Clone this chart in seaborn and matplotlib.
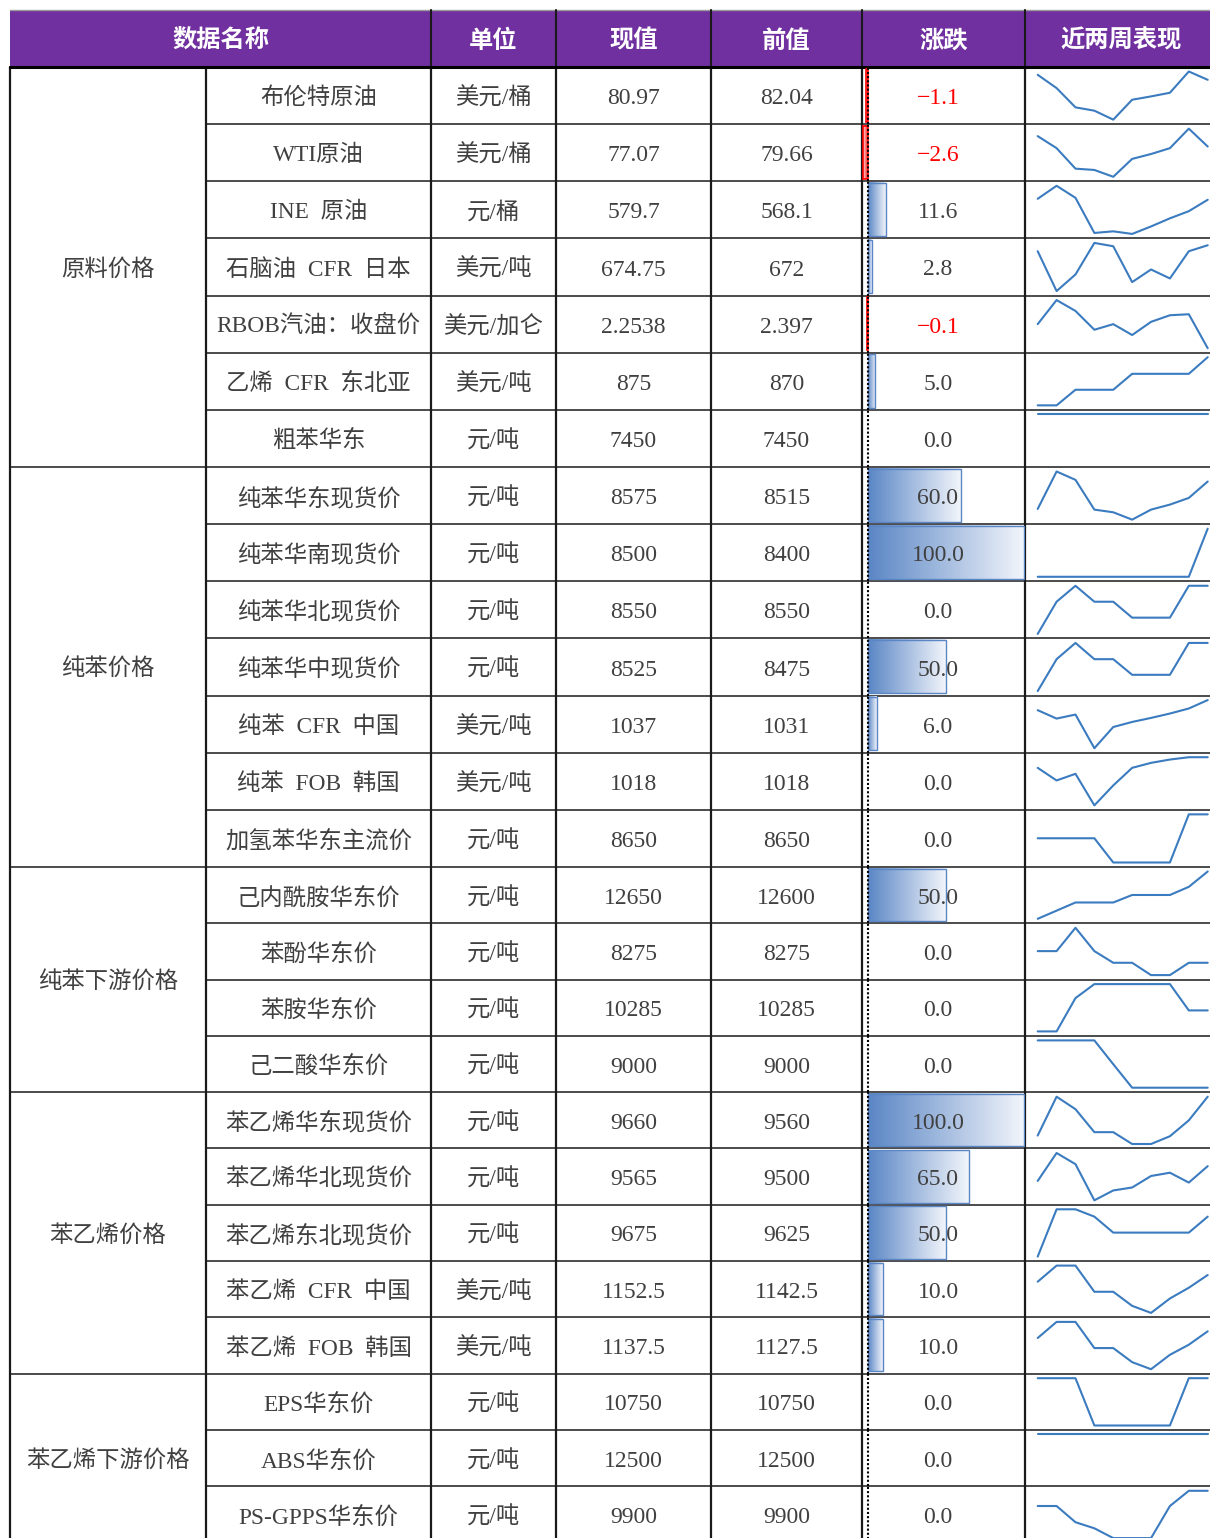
import numpy as np
import matplotlib
matplotlib.use("Agg")
import matplotlib.pyplot as plt
from matplotlib.colors import LinearSegmentedColormap
from matplotlib.patches import Rectangle
import seaborn as sns

sns.set_theme(style="white")
plt.rcParams['font.family'] = ['Liberation Serif', 'Noto Sans CJK SC', 'DejaVu Sans']

groups = ["原料价格", "纯苯价格", "纯苯下游价格", "苯乙烯价格", "苯乙烯下游价格"]
group_sizes = [7, 7, 4, 5, 3]

names = ["布伦特原油", "WTI原油", "INE  原油", "石脑油  CFR  日本", "RBOB汽油：收盘价",
         "乙烯  CFR  东北亚", "粗苯华东",
         "纯苯华东现货价", "纯苯华南现货价", "纯苯华北现货价", "纯苯华中现货价",
         "纯苯  CFR  中国", "纯苯  FOB  韩国", "加氢苯华东主流价",
         "己内酰胺华东价", "苯酚华东价", "苯胺华东价", "己二酸华东价",
         "苯乙烯华东现货价", "苯乙烯华北现货价", "苯乙烯东北现货价",
         "苯乙烯  CFR  中国", "苯乙烯  FOB  韩国",
         "EPS华东价", "ABS华东价", "PS-GPPS华东价"]

units = ["美元/桶", "美元/桶", "元/桶", "美元/吨", "美元/加仑", "美元/吨", "元/吨",
         "元/吨", "元/吨", "元/吨", "元/吨", "美元/吨", "美元/吨", "元/吨",
         "元/吨", "元/吨", "元/吨", "元/吨",
         "元/吨", "元/吨", "元/吨", "美元/吨", "美元/吨",
         "元/吨", "元/吨", "元/吨"]

current = [80.97, 77.07, 579.7, 674.75, 2.2538, 875, 7450,
           8575, 8500, 8550, 8525, 1037, 1018, 8650,
           12650, 8275, 10285, 9000,
           9660, 9565, 9675, 1152.5, 1137.5,
           10750, 12500, 9900]

previous = [82.04, 79.66, 568.1, 672, 2.397, 870, 7450,
            8515, 8400, 8550, 8475, 1031, 1018, 8650,
            12600, 8275, 10285, 9000,
            9560, 9500, 9625, 1142.5, 1127.5,
            10750, 12500, 9900]

# relative levels of the two-week sparklines (10 points each)
trends = [
    [135, 95, 37, 27, 0, 60, 70, 81, 145, 120],
    [125, 88, 25, 21, 0, 55, 70, 88, 148, 93],
    [108, 148, 111, 3, 8, 0, 23, 48, 70, 105],
    [120, 0, 50, 145, 135, 27, 65, 38, 120, 138],
    [73, 146, 113, 56, 73, 40, 80, 100, 103, 0],
    [0, 0, 47, 47, 47, 95, 95, 95, 95, 145],
    [0, 0, 0, 0, 0, 0, 0, 0, 0, 0],
    [32, 144, 119, 30, 22, 0, 30, 45, 65, 114],
    [0, 0, 0, 0, 0, 0, 0, 0, 0, 145],
    [0, 97, 145, 97, 97, 49, 49, 49, 145, 145],
    [0, 98, 148, 98, 98, 50, 50, 50, 148, 148],
    [113, 88, 100, 0, 63, 78, 90, 103, 118, 143],
    [113, 75, 95, 0, 60, 113, 128, 138, 145, 145],
    [71, 71, 71, 71, 0, 0, 0, 0, 141, 141],
    [0, 25, 50, 50, 50, 73, 73, 73, 98, 145],
    [72, 72, 142, 72, 37, 37, 0, 0, 37, 37],
    [0, 0, 100, 142, 142, 142, 142, 142, 63, 63],
    [143, 143, 143, 143, 71, 0, 0, 0, 0, 0],
    [25, 140, 103, 35, 35, 0, 0, 23, 70, 140],
    [59, 144, 110, 0, 30, 39, 74, 84, 54, 104],
    [0, 142, 142, 120, 72, 72, 72, 72, 72, 120],
    [93, 141, 141, 63, 63, 21, 0, 43, 75, 113],
    [93, 141, 141, 63, 63, 21, 0, 43, 73, 113],
    [145, 145, 145, 0, 0, 0, 0, 0, 145, 145],
    [0, 0, 0, 0, 0, 0, 0, 0, 0, 0],
    [95, 95, 47, 29, 0, 0, 0, 95, 140, 140],
]

headers = ["数据名称", "单位", "现值", "前值", "涨跌", "近两周表现"]

change = [round(c - p, 1) for c, p in zip(current, previous)]

# --- layout (pixels) ---
W, H = 1210, 1538
col_x = [10, 206, 431, 556, 711, 862, 1025, 1212]
head_top, head_bot = 10, 67
row_h = [800 / 14] * 14 + [56.3] * 12
row_edges = [head_bot]
for h in row_h:
    row_edges.append(row_edges[-1] + h)

purple = "#7030A0"
txt_col = "#404040"
line_col = "#1a1a1a"
spark_col = "#3B7BBF"
bar_col = "#5A86C5"
fs = 16.8
fs_num = 17
dy = 3  # text sits a little below the cell middle

fig = plt.figure(figsize=(W / 100, H / 100), dpi=100)
ax = fig.add_axes([0, 0, 1, 1])
ax.set_xlim(0, W)
ax.set_ylim(H, 0)
ax.set_axis_off()


def fig_rect(x0, x1, y0, y1):
    return [x0 / W, 1 - y1 / H, (x1 - x0) / W, (y1 - y0) / H]


# header
ax.add_patch(Rectangle((col_x[0], head_top), W - col_x[0], head_bot - head_top,
                       facecolor=purple, edgecolor="none"))
ax.plot([col_x[0], W], [head_top - 0.5, head_top - 0.5], color="#9a9a9a", lw=1)
head_cx = [(col_x[0] + col_x[2]) / 2, (col_x[2] + col_x[3]) / 2, (col_x[3] + col_x[4]) / 2,
           (col_x[4] + col_x[5]) / 2, (col_x[5] + col_x[6]) / 2, 1121]
for cx, t in zip(head_cx, headers):
    ax.text(cx, (head_top + head_bot) / 2 + 2, t, ha="center", va="center",
            color="white", fontsize=17.5, fontweight="bold",
            family=['Noto Sans CJK SC', 'DejaVu Sans'])
for x in col_x[2:7]:
    ax.plot([x, x], [head_top, head_bot], color=line_col, lw=1.5)

# body grid
for x in col_x[:7]:
    ax.plot([x, x], [head_bot, H], color=line_col, lw=1.6)
group_starts = np.cumsum([0] + group_sizes)
for i, y in enumerate(row_edges[1:], start=1):
    x0 = col_x[0] if i in group_starts else col_x[1]
    ax.plot([x0, W], [y, y], color=line_col, lw=1.1)
ax.plot([col_x[0], W], [head_bot, head_bot], color="black", lw=2.2)

# group labels
for g, start, size in zip(groups, group_starts[:-1], group_sizes):
    yc = (row_edges[start] + row_edges[start + size]) / 2 + dy
    ax.text((col_x[0] + col_x[1]) / 2, yc, g, ha="center", va="center",
            color=txt_col, fontsize=fs)

# row texts
for i in range(len(names)):
    yc = (row_edges[i] + row_edges[i + 1]) / 2 + dy
    ax.text((col_x[1] + col_x[2]) / 2, yc, names[i], ha="center", va="center", color=txt_col, fontsize=fs)
    ax.text((col_x[2] + col_x[3]) / 2, yc, units[i], ha="center", va="center", color=txt_col, fontsize=fs)
    ax.text((col_x[3] + col_x[4]) / 2, yc, f"{current[i]:g}", ha="center", va="center", color=txt_col, fontsize=fs_num)
    ax.text((col_x[4] + col_x[5]) / 2, yc, f"{previous[i]:g}", ha="center", va="center", color=txt_col, fontsize=fs_num)

# data bars in the change column
pos_cmap = LinearSegmentedColormap.from_list("pos", [bar_col, "#F2F5FB"])
neg_cmap = LinearSegmentedColormap.from_list("neg", ["#FFE0E0", "#FF2020"])
grad = np.linspace(0, 1, 256).reshape(1, -1)
zero_px, px_per_unit = 867.5, 1.56
bx0, bx1 = col_x[5], col_x[6]
for i, c in enumerate(change):
    y0, y1 = row_edges[i], row_edges[i + 1]
    bax = fig.add_axes(fig_rect(bx0, bx1, y0, y1))
    bax.set_xlim((bx0 - zero_px) / px_per_unit, (bx1 - zero_px) / px_per_unit)
    bax.set_ylim(1, 0)
    bax.set_axis_off()
    if c > 0:
        bax.imshow(grad, cmap=pos_cmap, extent=(0.5, c, 0.96, 0.03), aspect="auto", zorder=1)
        bax.barh(0.495, c - 0.5, left=0.5, height=0.93, fill=False, edgecolor=bar_col, linewidth=1, zorder=2)
    elif c < 0:
        bax.imshow(grad, cmap=neg_cmap, extent=(c, 0, 0.96, 0.03), aspect="auto", zorder=1)
        bax.barh(0.495, c, left=0, height=0.93, fill=False, edgecolor="#FF0000", linewidth=1.2, zorder=2)
    bax.axvline(0, color="black", lw=1.5, ls=(0, (1, 1)), zorder=3)
    label = f"{c:.1f}".replace("-", "\u2212")
    bax.text((938 - bx0) / (bx1 - bx0), 0.5 - dy / (y1 - y0), label, transform=bax.transAxes,
             ha="center", va="center", fontsize=fs_num,
             color="#FF0000" if c < 0 else txt_col, zorder=4)

# sparklines
sx0, sx1 = col_x[6], W
first_px, step_px = 1037.7, 18.89
for i, vals in enumerate(trends):
    y0, y1 = row_edges[i], row_edges[i + 1]
    h = y1 - y0
    sax = fig.add_axes(fig_rect(sx0, sx1, y0, y1))
    sns.lineplot(x=list(range(len(vals))), y=vals, ax=sax, color=spark_col, linewidth=1.5)
    sax.set_xlim(-(first_px - sx0) / step_px, (sx1 - first_px) / step_px)
    vmin, vmax = min(vals), max(vals)
    if vmax > vmin:
        scale = (h - 9) / (vmax - vmin)
        sax.set_ylim(vmin - 4.5 / scale, vmax + 4.5 / scale)
    else:
        sax.set_ylim(vmin - (h - 4), vmin + 4)
    sax.set_axis_off()

fig.savefig("out.png", dpi=100)
